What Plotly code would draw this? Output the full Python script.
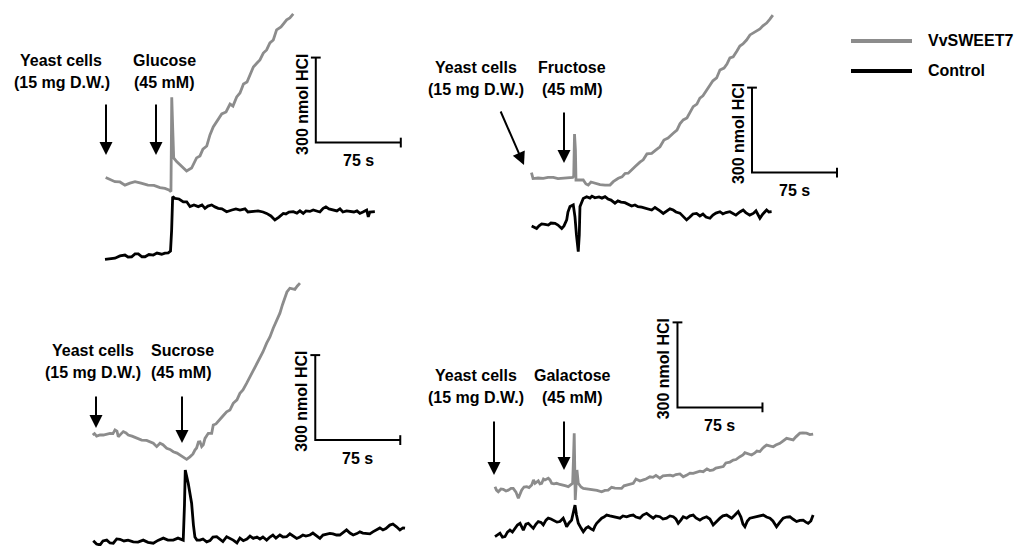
import plotly.graph_objects as go

# ---------------- DATA (time in s, signal in nmol HCl, relative to trace start) -------------
# Panel 1: Glucose
glu_sweet_t = [0.6, 4.4, 8.8, 13.2, 17.6, 22.0, 26.5, 31.8, 37.9, 43.2, 48.5, 52.9, 56.4, 58.2, 58.9, 59.8,
               60.6, 63.2, 66.1, 69.0, 72.0, 76.4, 80.8, 83.8, 86.4, 89.8, 92.6, 95.5, 99.7, 103.0, 106.8,
               110.3, 112.9, 116.2, 119.1, 122.2, 125.3, 127.9, 130.9, 134.1, 136.7, 139.7, 142.6, 145.5,
               148.5, 151.4, 155.3, 160.3, 163.1, 166.1]
glu_sweet_v = [2, -5, -13, -14, -25, -18, -13, -18, -25, -26, -34, -37, -42, -48, 285, 169,
               71, 58, 46, 35, 25, 35, 71, 78, 102, 113, 152, 180, 205, 226, 233,
               261, 254, 286, 300, 332, 339, 367, 392, 406, 417, 441, 452, 477,
               487, 523, 533, 558, 565, 579]
glu_ctrl_t = [0, 4.4, 8.8, 13.2, 17.6, 20.3, 23.5, 26.5, 29.4, 32.6, 35.3, 38.8, 42.6, 45.9, 50.0, 52.9,
              55.8, 57.8, 58.8, 59.7, 61.7, 65.3, 69.1, 72.1, 75.0, 78.5, 82.3, 85.6, 88.2, 90.8, 94.1,
              97.0, 99.9, 103.2, 107.3, 112.0, 115.5, 119.1, 123.5, 126.1, 130.8, 135.0, 139.4, 142.6,
              146.4, 149.9, 153.5, 157.3, 159.6, 162.3, 166.1, 169.3, 172.0, 174.9, 177.3, 180.8, 183.7,
              187.0, 189.6, 192.5, 194.9, 197.6, 201.4, 204.6, 207.3, 209.9, 213.2, 216.1, 219.6, 222.3,
              224.9, 227.6, 230.9, 232.3, 233.7, 238.1]
glu_ctrl_v = [-287, -284, -283, -275, -272, -279, -278, -268, -268, -278, -278, -270, -272, -265, -269, -265,
              -264, -258, -184, -66, -72, -74, -84, -84, -101, -95, -101, -95, -107, -99, -95,
              -102, -107, -109, -119, -113, -109, -113, -109, -120, -119, -116, -120, -125,
              -134, -148, -138, -125, -127, -120, -119, -124, -116, -125, -116, -118, -113,
              -116, -120, -107, -102, -109, -113, -116, -109, -120, -116, -118, -120, -116,
              -125, -120, -113, -137, -120, -119]

# Panel 2: Fructose
fru_sweet_t = [0.4, 1.8, 6.2, 10.8, 15.0, 19.7, 23.8, 28.5, 32.6, 36.8, 37.7, 38.4, 39.2, 39.7, 43.2, 46.1,
               48.5, 50.5, 52.9, 56.4, 60.9, 65.3, 69.7, 72.6, 77.0, 80.3, 82.9, 85.8, 89.1, 91.7, 96.1,
               99.0, 102.3, 106.5, 110.3, 113.8, 117.3, 120.9, 125.5, 128.8, 131.4, 134.3, 137.6, 140.2,
               143.1, 146.4, 149.0, 151.7, 155.0, 157.9, 160.5, 163.8, 166.7, 170.3, 172.9, 175.5, 178.4,
               181.7, 184.3, 187.0, 190.2, 193.2, 195.8, 199.1, 202.0, 204.6, 207.9, 210.8, 213.4]
fru_sweet_v = [19, -2, 0, -1, 2, 2, -2, -1, 2, 2, 7, 155, 99, -7, -7, -7,
               -21, -25, -14, -19, -23, -25, -25, -13, -1, 4, 16, 17, 32, 40, 56,
               64, 85, 87, 99, 110, 134, 141, 158, 169, 191, 205, 212, 233,
               252, 261, 282, 290, 311, 325, 343, 353, 381, 388, 402, 424, 428,
               448, 466, 473, 487, 505, 512, 519, 526, 537, 547, 561, 575]
fru_ctrl_t = [0.6, 2.6, 5.0, 7.1, 9.4, 12.3, 15.3, 17.6, 21.2, 23.8, 27.1, 29.1, 31.5, 32.6, 34.4, 37.3,
              38.8, 40.1, 41.7, 42.6, 43.2, 44.5, 46.1, 49.1, 52.0, 53.8, 56.4, 60.0, 62.6, 65.3, 67.9,
              70.6, 74.1, 76.7, 79.4, 82.9, 85.6, 88.8, 91.7, 94.4, 97.6, 100.5, 103.2, 106.5, 109.4,
              112.0, 113.8, 116.7, 120.0, 122.6, 125.5, 127.9, 131.4, 134.1, 137.3, 140.2, 142.9, 146.1,
              149.0, 151.7, 154.4, 157.9, 160.5, 163.2, 166.7, 169.3, 172.0, 175.5, 178.4, 180.8, 184.3,
              187.2, 189.5, 193.0, 196.1, 198.5, 202.0, 204.6, 207.9, 209.9, 212.3]
fru_ctrl_v = [-169, -173, -178, -169, -162, -164, -166, -159, -160, -166, -178, -169, -148, -120, -101, -95,
              -137, -201, -260, -201, -101, -88, -72, -66, -71, -64, -70, -67, -71, -66, -74,
              -78, -89, -81, -85, -87, -92, -99, -95, -101, -103, -106, -109, -113, -104,
              -113, -116, -125, -116, -109, -113, -120, -124, -134, -148, -138, -127, -125,
              -134, -127, -138, -142, -131, -124, -119, -127, -122, -119, -125, -131, -120,
              -113, -122, -131, -125, -116, -142, -127, -113, -120, -119]

# Panel 3: Sucrose
suc_sweet_t = [0.6, 2.2, 4.1, 7.1, 10.0, 13.2, 15.9, 18.5, 20.3, 22.0, 23.2, 25.6, 27.6, 30.0, 32.0, 35.3,
               39.4, 43.8, 48.2, 51.2, 54.1, 57.1, 60.0, 62.6, 65.9, 68.8, 71.7, 75.0, 79.1, 82.0, 83.5,
               86.4, 89.1, 90.8, 92.3, 93.9, 95.3, 96.8, 98.2, 99.7, 102.6, 105.6, 107.0, 109.4, 112.9,
               115.5, 118.8, 121.7, 124.6, 127.9, 130.5, 133.2, 136.5, 139.4, 142.3, 144.7, 148.2, 150.8,
               154.1, 157.0, 159.9, 162.3, 164.0, 165.8, 168.0, 170.2, 172.0, 174.6, 177.3, 179.0, 181.2,
               183.5]
suc_sweet_v = [0, 5, -4, 0, 0, 4, 6, 5, 18, 14, -6, 4, 12, 7, 0, -4,
               -12, -18, -19, -25, -29, -41, -29, -34, -47, -51, -59, -64, -74, -82, -86,
               -77, -67, -53, -46, -25, -24, -41, -35, -12, 6, 6, 35, 39, 53,
               67, 82, 88, 112, 124, 147, 159, 183, 205, 229, 247, 276, 293,
               324, 346, 377, 399, 413, 430, 459, 488, 505, 518, 514, 514, 526,
               536]
suc_ctrl_t = [1.1, 4.0, 7.1, 9.7, 13.0, 15.9, 18.8, 21.8, 24.7, 28.2, 31.8, 36.4, 40.6, 45.2, 49.4, 54.1,
              58.2, 62.9, 67.0, 71.7, 75.9, 80.5, 81.6, 82.3, 84.9, 86.4, 87.9, 89.5, 90.8, 92.6, 95.3,
              97.9, 101.2, 104.1, 106.7, 110.0, 112.9, 115.5, 118.8, 121.7, 124.6, 127.9, 130.5, 133.5,
              136.7, 139.4, 142.3, 145.5, 148.2, 150.8, 154.1, 157.0, 159.6, 162.3, 165.8, 168.5, 171.7,
              174.6, 177.3, 180.6, 183.5, 186.1, 188.7, 192.3, 194.9, 198.2, 201.1, 203.8, 207.0, 209.9,
              212.6, 215.8, 218.7, 221.4, 224.6, 227.6, 230.5, 233.7, 236.4, 239.0, 242.3, 245.2, 247.8,
              251.1, 254.0, 256.7, 259.3, 262.8, 265.5, 268.7, 271.7, 274.4, 276.2]
suc_ctrl_v = [-373, -385, -388, -374, -371, -381, -382, -367, -368, -374, -371, -377, -378, -371, -379, -382,
              -372, -364, -371, -371, -364, -371, -247, -124, -170, -205, -241, -318, -360, -371, -371,
              -367, -377, -373, -360, -359, -367, -376, -359, -364, -371, -381, -364, -373,
              -367, -357, -365, -360, -367, -360, -371, -360, -353, -364, -353, -360, -359,
              -349, -357, -365, -360, -353, -357, -353, -346, -358, -365, -353, -349, -347,
              -349, -353, -353, -346, -335, -346, -353, -348, -342, -346, -347, -349, -342,
              -335, -328, -335, -330, -318, -314, -324, -335, -328, -329]

# Panel 4: Galactose
gal_sweet_t = [0, 1.3, 2.9, 5.3, 7.3, 9.7, 11.7, 14.1, 16.1, 18.5, 20.6, 22.1, 23.5, 25.6, 28.0, 30.0,
               32.4, 34.0, 35.3, 38.2, 39.7, 41.2, 42.8, 44.1, 47.0, 48.5, 50.0, 52.0, 54.4, 57.3, 60.2,
               62.6, 64.7, 67.0, 68.5, 69.2, 69.9, 70.4, 70.8, 71.4, 72.3, 73.5, 75.9, 77.9, 81.1, 83.8,
               86.7, 90.0, 94.1, 97.0, 99.9, 102.9, 105.8, 108.5, 111.7, 113.8, 116.2, 119.1, 122.0, 124.4,
               127.9, 130.8, 133.2, 136.7, 139.4, 142.0, 145.5, 148.2, 151.7, 154.4, 157.0, 159.6, 163.2,
               166.1, 169.3, 172.0, 174.9, 178.2, 180.8, 183.7, 187.0, 189.6, 192.5, 194.9, 198.5, 201.4,
               203.7, 207.3, 210.2, 212.6, 216.1, 218.8, 220.5, 223.2, 226.4, 229.3, 231.1, 233.7, 236.4,
               239.6, 242.6, 245.5, 247.8, 251.4, 254.0, 257.3, 260.2, 263.1, 265.5, 269.0, 271.6, 274.9,
               277.8, 280.7]
gal_sweet_v = [1, -11, -17, -7, -8, -14, -11, -5, -5, -18, -40, -25, -11, 0, 1, -2,
               7, 25, 13, 22, 11, 13, 28, 25, 31, 25, 13, 11, 13, 9, 7,
               4, 1, 7, 13, 95, 190, 60, -46, -4, 60, 13, 0, -5, -7, -7,
               -11, -12, -17, -12, -11, -1, -4, -5, -5, 4, 7, 11, 13, 28,
               21, 25, 28, 36, 34, 41, 31, 39, 42, 42, 39, 44, 46,
               36, 42, 49, 48, 53, 56, 54, 64, 58, 60, 67, 71, 72,
               85, 88, 95, 97, 107, 113, 121, 116, 113, 120, 127, 125, 138,
               148, 145, 142, 148, 154, 162, 172, 169, 166, 177, 190, 191, 190,
               185, 187]
gal_ctrl_t = [0, 2.2, 4.4, 6.6, 8.8, 11.0, 13.2, 15.4, 17.6, 19.8, 22.1, 23.4, 25.0, 27.3, 29.4, 31.8,
              33.8, 36.2, 38.2, 40.6, 42.6, 45.0, 47.0, 49.4, 51.4, 54.7, 57.3, 60.2, 61.7, 63.2, 65.3,
              67.6, 69.2, 70.6, 71.9, 73.5, 75.9, 77.9, 80.3, 82.3, 84.7, 86.7, 88.2, 89.7, 91.7, 94.1,
              96.1, 98.5, 101.4, 104.3, 107.6, 110.3, 112.9, 116.2, 119.1, 122.0, 124.4, 127.9, 130.5,
              133.8, 136.7, 139.6, 142.0, 145.5, 148.2, 151.4, 154.4, 157.3, 159.6, 161.7, 164.0, 166.1,
              169.1, 172.0, 174.9, 177.3, 180.8, 183.4, 186.7, 189.6, 192.5, 194.9, 198.5, 201.1, 204.4,
              206.4, 208.8, 211.7, 214.6, 217.0, 218.8, 220.5, 222.7, 224.9, 227.6, 230.8, 233.7, 236.7,
              239.6, 242.6, 245.2, 248.4, 251.4, 254.3, 257.3, 260.2, 262.8, 266.1, 269.0, 271.9, 274.3,
              276.3, 278.7, 280.7]
gal_ctrl_v = [-175, -169, -163, -177, -175, -159, -152, -159, -146, -134, -128, -141, -152, -131, -128, -138,
              -146, -131, -122, -125, -134, -117, -110, -113, -117, -124, -122, -110, -124, -140, -127,
              -117, -88, -64, -99, -128, -145, -158, -145, -140, -148, -152, -138, -128, -120, -110,
              -106, -99, -102, -105, -109, -110, -102, -105, -101, -99, -106, -110, -99,
              -93, -102, -110, -102, -105, -113, -110, -102, -105, -113, -128, -117, -105,
              -110, -102, -99, -109, -117, -110, -105, -113, -134, -124, -110, -102, -99,
              -104, -110, -99, -87, -106, -131, -140, -120, -110, -108, -105, -102, -99,
              -106, -110, -120, -140, -124, -110, -106, -105, -113, -122, -118, -117, -124,
              -128, -120, -99]

sugars = ["Glucose", "Fructose", "Sucrose", "Galactose"]
series_names = ["VvSWEET7", "Control"]
cells_label = ["Yeast cells", "(15 mg D.W.)"]
conc_label = "(45 mM)"
scale_time = 75      # s
scale_amount = 300   # nmol HCl

traces = [
    (glu_sweet_t, glu_sweet_v, glu_ctrl_t, glu_ctrl_v),
    (fru_sweet_t, fru_sweet_v, fru_ctrl_t, fru_ctrl_v),
    (suc_sweet_t, suc_sweet_v, suc_ctrl_t, suc_ctrl_v),
    (gal_sweet_t, gal_sweet_v, gal_ctrl_t, gal_ctrl_v),
]

# ---------------- LAYOUT / STYLE ----------------
W, H = 1017, 546
SX = 85 / 75.0      # px per second
SY = 85 / 300.0     # px per nmol
GRAY = "#8c8c8c"
BLACK = "#000000"
FONT = "Liberation Sans, Arial, sans-serif"
FS = 16
LW = 2.8

# pixel position of each panel's (t=0, signal=0)
origins = [(105, 178), (531, 178), (92, 435), (495, 487)]
# scale-bar corner in panel data units
bar_corner = [(186, 125), (195, 19), (197, -18), (161, 281)]
# label centers (px): yeast line1, yeast line2, sugar, conc
label_pos = [
    [(61, 60), (62, 82), (164, 60), (164, 82)],
    [(476, 67), (476, 90), (572, 67), (572, 90)],
    [(93, 350), (93, 372), (182, 350), (181, 372)],
    [(476, 375), (476, 397), (572, 375), (572, 397)],
]
# arrows: (tail px, tip px)
arrows = [
    [((106, 103), (106, 155)), ((156, 103), (156, 155))],
    [((500, 110), (524, 165)), ((564, 111), (564, 163))],
    [((96, 395), (96, 428)), ((182, 395), (182, 443))],
    [((494, 420), (494, 475)), ((564, 420), (564, 470))],
]

fig = go.Figure()
annotations = []
shapes = []

def px2paper(x, y):
    return x / W, 1 - y / H

for i, (st, sv, ct, cv) in enumerate(traces):
    k = "" if i == 0 else str(i + 1)
    xa, ya = "x" + k, "y" + k
    fig.add_trace(go.Scatter(x=st, y=sv, mode="lines", xaxis=xa, yaxis=ya, showlegend=False,
                             line=dict(color=GRAY, width=LW), name=series_names[0], hoverinfo="skip"))
    fig.add_trace(go.Scatter(x=ct, y=cv, mode="lines", xaxis=xa, yaxis=ya, showlegend=False,
                             line=dict(color=BLACK, width=LW), name=series_names[1], hoverinfo="skip"))
    cx, cy = bar_corner[i]
    fig.add_trace(go.Scatter(x=[cx, cx, cx + scale_time], y=[cy + scale_amount, cy, cy], mode="lines",
                             xaxis=xa, yaxis=ya, showlegend=False, hoverinfo="skip",
                             line=dict(color=BLACK, width=2)))
    fig.add_trace(go.Scatter(x=[cx], y=[cy + scale_amount], mode="markers", xaxis=xa, yaxis=ya,
                             showlegend=False, hoverinfo="skip",
                             marker=dict(symbol="line-ew", size=7, line=dict(color=BLACK, width=2))))
    fig.add_trace(go.Scatter(x=[cx + scale_time], y=[cy], mode="markers", xaxis=xa, yaxis=ya,
                             showlegend=False, hoverinfo="skip",
                             marker=dict(symbol="line-ns", size=7, line=dict(color=BLACK, width=2))))
    annotations.append(dict(x=cx, y=cy + scale_amount / 2, xref=xa, yref=ya, text=f"<b>{scale_amount} nmol HCl</b>",
                             textangle=-90, showarrow=False, xshift=-14, yshift=-4,
                             font=dict(family=FONT, size=FS, color=BLACK)))
    annotations.append(dict(x=cx + scale_time / 2, y=cy, xref=xa, yref=ya, text=f"<b>{scale_time} s</b>",
                             showarrow=False, yshift=-18, font=dict(family=FONT, size=FS, color=BLACK)))
    texts = [cells_label[0], cells_label[1], sugars[i], conc_label]
    for (lx, ly), t in zip(label_pos[i], texts):
        px_, py_ = px2paper(lx, ly)
        annotations.append(dict(x=px_, y=py_, xref="paper", yref="paper", text=f"<b>{t}</b>",
                                showarrow=False, xanchor="center", yanchor="middle",
                                font=dict(family=FONT, size=FS, color=BLACK)))
    for (tx, ty), (hx, hy) in arrows[i]:
        px_, py_ = px2paper(hx, hy)
        annotations.append(dict(x=px_, y=py_, xref="paper", yref="paper", text="", showarrow=True,
                                ax=tx - hx, ay=ty - hy, axref="pixel", ayref="pixel",
                                arrowhead=2, arrowsize=1.3, arrowwidth=2, arrowcolor=BLACK))

# manual legend
for j, (col, name) in enumerate(zip([GRAY, BLACK], series_names)):
    yy = 41 + 30 * j
    x0, y0 = px2paper(851, yy)
    x1, _ = px2paper(912, yy)
    shapes.append(dict(type="line", xref="paper", yref="paper", x0=x0, x1=x1, y0=y0, y1=y0,
                       line=dict(color=col, width=4)))
    lx, _ = px2paper(926, yy)
    annotations.append(dict(x=lx, y=y0, xref="paper", yref="paper", text=f"<b>{name}</b>",
                            showarrow=False, xanchor="left", yanchor="middle",
                            font=dict(family=FONT, size=FS, color=BLACK)))

layout = dict(width=W, height=H, margin=dict(l=0, r=0, t=0, b=0), plot_bgcolor="white",
              paper_bgcolor="white", annotations=annotations, shapes=shapes, showlegend=False)
for i, (ox, oy) in enumerate(origins):
    k = "" if i == 0 else str(i + 1)
    xr = [-ox / SX, (W - ox) / SX]
    yr = [-(H - oy) / SY, oy / SY]
    xd = dict(domain=[0, 1], range=xr, visible=False, fixedrange=True)
    yd = dict(domain=[0, 1], range=yr, visible=False, fixedrange=True, anchor="x" + k)
    if i > 0:
        xd["overlaying"] = "x"
        yd["overlaying"] = "y"
    layout["xaxis" + k] = xd
    layout["yaxis" + k] = yd

fig.update_layout(**layout)
fig.write_html("out.html", config={"displayModeBar": False},
               post_script="document.body.style.margin='0';")
